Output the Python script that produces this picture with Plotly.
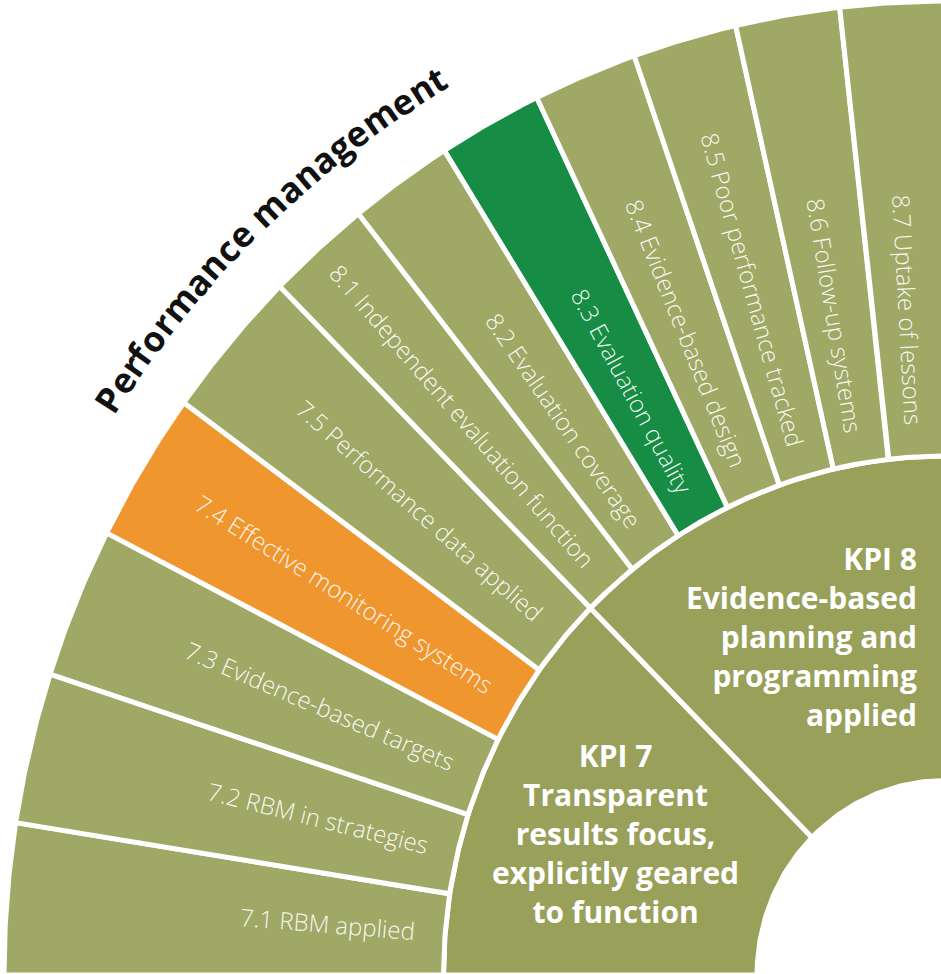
import numpy as np
import plotly.graph_objects as go

#----- Data -----#

kpi_names = ['KPI 7', 'KPI 8']
kpi_texts = [
    'Transparent<br>results focus,<br>explicitly geared<br>to function',
    'Evidence-based<br>planning and<br>programming<br>applied',
]
indicator_kpi = ['KPI 7', 'KPI 7', 'KPI 7', 'KPI 7', 'KPI 7',
                 'KPI 8', 'KPI 8', 'KPI 8', 'KPI 8', 'KPI 8', 'KPI 8', 'KPI 8']
indicator_labels = [
    '7.1 RBM applied',
    '7.2 RBM in strategies',
    '7.3 Evidence-based targets',
    '7.4 Effective monitoring systems',
    '7.5 Performance data applied',
    '8.1 Independent evaluation function',
    '8.2 Evaluation coverage',
    '8.3 Evaluation quality',
    '8.4 Evidence-based design',
    '8.5 Poor performance tracked',
    '8.6 Follow-up systems',
    '8.7 Uptake of lessons',
]
# every indicator bar reaches the full outer ring
indicator_reach = [100, 100, 100, 100, 100, 100, 100, 100, 100, 100, 100, 100]
highlighted = {'7.4': '#f0962f', '8.3': '#178c45'}
section_title = 'Performance management'

#----- Layout constants -----#

W, H = 941, 974
CX, CY = 945, 975          # pixel position of the centre
K = 1.035                  # vertical stretch of the original artwork
R_HOLE, R_RING, R_OUT = 188, 501.5, 941
R_TEXT, R_KPI, R_TITLE = 530, 357, 1004
KPI_NUDGE = [0, 1.2]       # degrees, per KPI text block
RING_COLOR = '#98a05a'
BAR_COLOR = '#a0a866'
LABEL_FONT = dict(family='Open Sans', size=24, color='rgba(255,255,255,0.93)', weight=300)
LABEL_H = 34

def wedge(r0, r1, a0, a1, n=90):
    ''' Polygon of an annular sector, angles in degrees '''
    t = np.radians(np.linspace(a0, a1, n))
    xs = np.concatenate([r1 * np.cos(t), r0 * np.cos(t[::-1])])
    ys = np.concatenate([r1 * np.sin(t), r0 * np.sin(t[::-1])])
    return np.append(xs, xs[0]), np.append(ys, ys[0])

fig = go.Figure()

# Angular layout: each KPI gets an equal share of the quarter circle
kpi_share = 90 / len(kpi_names)
kpi_start = {k: 180 - i * kpi_share for i, k in enumerate(kpi_names)}

## Trace: KPI ring
for i, k in enumerate(kpi_names):
    a0 = kpi_start[k]
    xs, ys = wedge(R_HOLE, R_RING, a0, a0 - kpi_share)
    fig.add_trace(go.Scatter(x=xs, y=ys, mode='lines', fill='toself',
                             fillcolor=RING_COLOR, line=dict(color='white', width=5),
                             hoverinfo='skip', showlegend=False))
    mid = np.radians(a0 - kpi_share / 2 + KPI_NUDGE[i])
    fig.add_annotation(x=R_KPI * np.cos(mid), y=R_KPI * np.sin(mid),
                       text='<b>' + k + '<br>' + kpi_texts[i] + '</b>',
                       align='center' if i == 0 else 'right',
                       xanchor='center', yanchor='middle', showarrow=False,
                       font=dict(family='Open Sans', size=30, color='white'))

## Trace: indicator bars
counts = {k: indicator_kpi.count(k) for k in kpi_names}
seen = {k: 0 for k in kpi_names}
for lab, k, reach in zip(indicator_labels, indicator_kpi, indicator_reach):
    width = kpi_share / counts[k]
    a0 = kpi_start[k] - seen[k] * width
    seen[k] += 1
    r1 = R_RING + (R_OUT - R_RING) * reach / 100
    color = highlighted.get(lab.split(' ')[0], BAR_COLOR)
    xs, ys = wedge(R_RING, r1, a0, a0 - width)
    fig.add_trace(go.Scatter(x=xs, y=ys, mode='lines', fill='toself',
                             fillcolor=color, line=dict(color='white', width=5),
                             hoverinfo='skip', showlegend=False))

    # Label: reads from outside inwards, ending near the ring
    th = np.radians(a0 - width / 2)
    ang = np.degrees(np.arctan2(K * np.sin(th), -np.cos(th)))
    a = np.radians(ang)
    fig.add_annotation(x=R_TEXT * np.cos(th), y=R_TEXT * np.sin(th), text=lab,
                       textangle=ang, xanchor='right', yanchor='bottom',
                       xshift=LABEL_H / 2 * np.sin(a), yshift=-LABEL_H / 2 * np.cos(a),
                       showarrow=False, font=LABEL_FONT)

## Curved section title
char_w = {'P': .63, 'e': .58, 'r': .42, 'f': .36, 'o': .62, 'm': .95, 'a': .58,
          'n': .65, 'c': .50, ' ': .26, 'g': .56, 't': .38}
adv = np.array([char_w.get(c, .55) for c in section_title])
centres = np.cumsum(adv) - adv / 2
phi = 146.4 - (centres - centres[0]) / (centres[-1] - centres[0]) * (146.4 - 120.4)
for c, p in zip(section_title, phi):
    if c == ' ':
        continue
    pr = np.radians(p)
    fig.add_annotation(x=R_TITLE * np.cos(pr), y=R_TITLE * np.sin(pr), text='<b>' + c + '</b>',
                       textangle=np.degrees(np.arctan2(K * np.cos(pr), np.sin(pr))),
                       xanchor='center', yanchor='middle', showarrow=False,
                       font=dict(family='Open Sans', size=35, color='#111111'))

fig.update_xaxes(range=[-CX, W - CX], visible=False, fixedrange=True)
fig.update_yaxes(range=[(CY - H) / K, CY / K], visible=False, fixedrange=True)
fig.update_layout(width=W, height=H, margin=dict(l=0, r=0, t=0, b=0),
                  plot_bgcolor='white', paper_bgcolor='white')

fig.write_html('out.html', config={'displayModeBar': False},
               post_script="document.body.style.margin='0';")
